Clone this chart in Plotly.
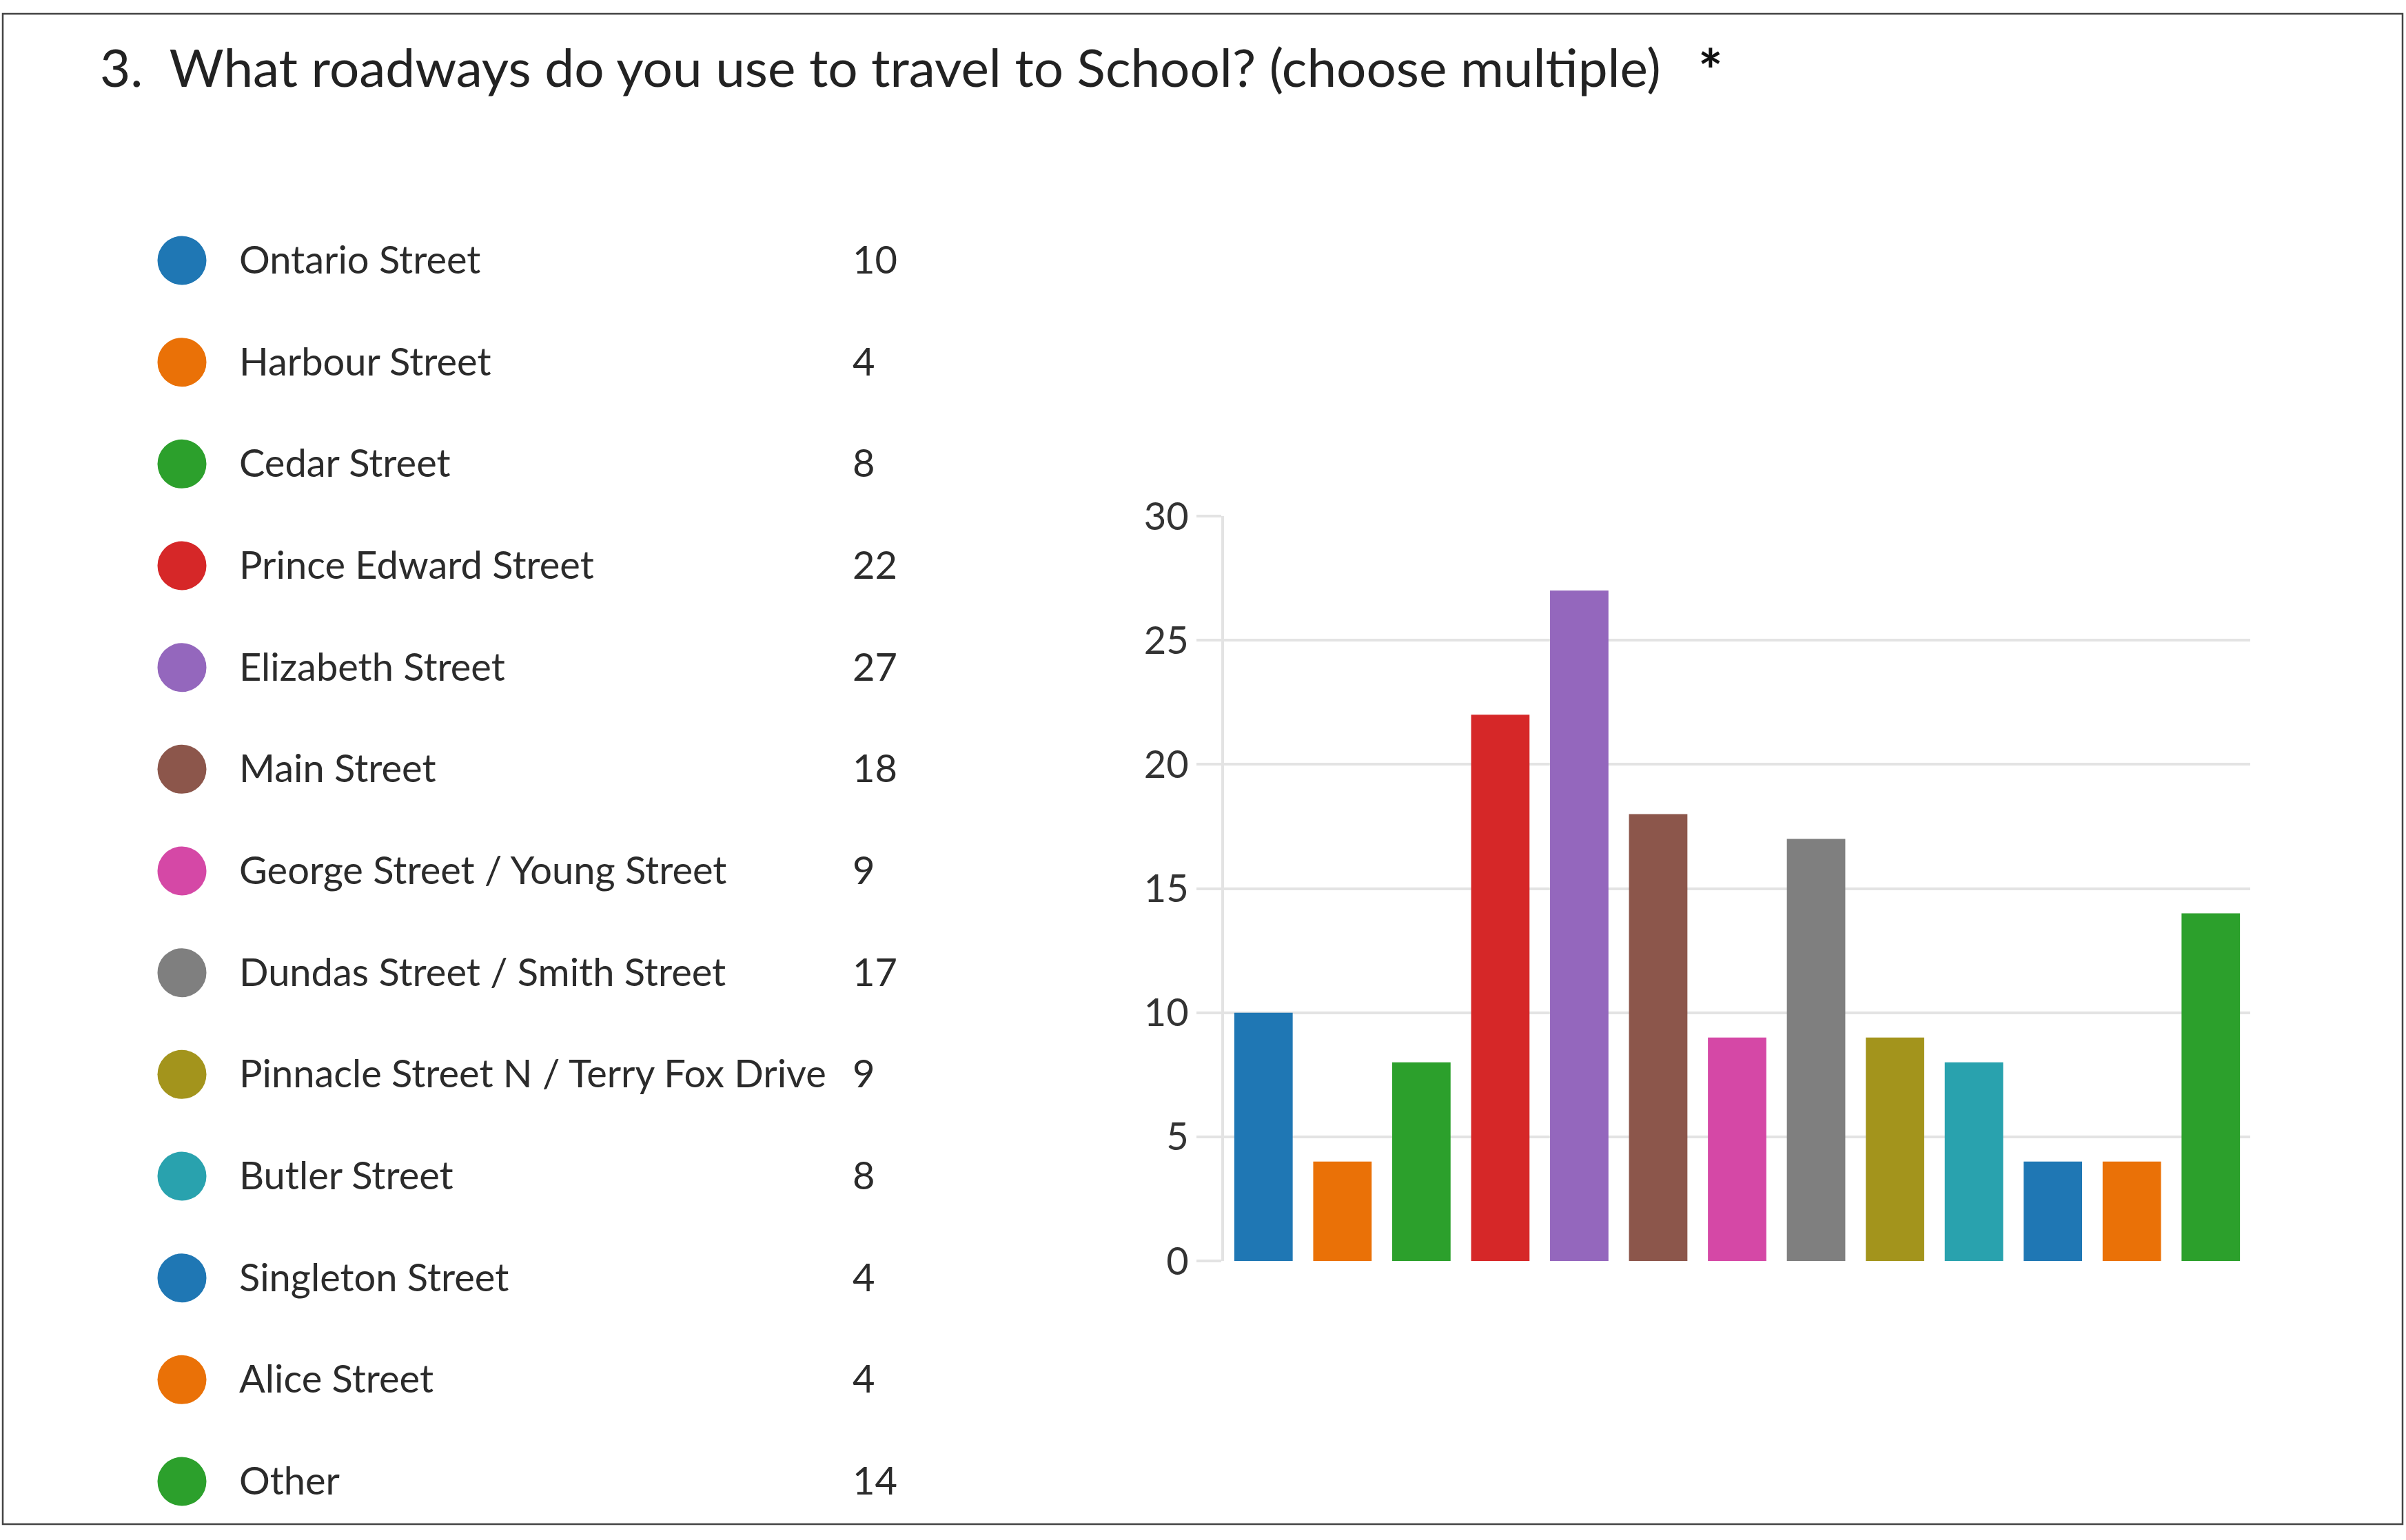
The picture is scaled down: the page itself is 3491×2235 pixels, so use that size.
import plotly.graph_objects as go

W, H = 3491, 2235

streets = [
    "Ontario Street", "Harbour Street", "Cedar Street", "Prince Edward Street",
    "Elizabeth Street", "Main Street", "George Street / Young Street",
    "Dundas Street / Smith Street", "Pinnacle Street N / Terry Fox Drive",
    "Butler Street", "Singleton Street", "Alice Street", "Other",
]
counts = [10, 4, 8, 22, 27, 18, 9, 17, 9, 8, 4, 4, 14]
colors = [
    "#1f77b4", "#ea7107", "#2ca02c", "#d62728", "#9467bd", "#8c564b",
    "#d548a6", "#7f7f7f", "#a3941c", "#29a2ae", "#1f77b4", "#ea7107", "#2ca02c",
]
y_ticks = [0, 5, 10, 15, 20, 25, 30]
title_text = "3.  What roadways do you use to travel to School? (choose multiple)"

FONT = "Lato"
TXT = "#2b2b2b"
GRID = "#e3e3e3"


def fx(p):
    return p / W


def fy(p):
    return 1 - p / H


fig = go.Figure()

# Bar chart
fig.add_trace(go.Bar(
    x=streets, y=counts, width=0.74,
    marker=dict(color=colors, line=dict(width=0)),
    xaxis="x", yaxis="y", showlegend=False, hoverinfo="skip",
))

# Legend built as scatters on their own axes
n = len(streets)
fig.add_trace(go.Scatter(
    x=[264] * n, y=streets, mode="markers",
    marker=dict(size=71, color=colors, line=dict(width=0)),
    xaxis="x2", yaxis="y2", showlegend=False, hoverinfo="skip",
))
fig.add_trace(go.Scatter(
    x=[347] * n, y=streets, mode="text", text=streets,
    textposition="middle right",
    textfont=dict(family=FONT, size=56, color=TXT),
    xaxis="x2", yaxis="y3", showlegend=False, hoverinfo="skip",
))
fig.add_trace(go.Scatter(
    x=[1237] * n, y=streets, mode="text",
    text=[str(c) for c in counts],
    textposition="middle right",
    textfont=dict(family=FONT, size=56, color=TXT),
    xaxis="x2", yaxis="y3", showlegend=False, hoverinfo="skip",
))

row_px = 147.67


def cat_range(first_px):
    top = -first_px / row_px
    return [top + H / row_px, top]


fig.update_layout(
    width=W, height=H, autosize=False,
    margin=dict(l=0, r=0, t=0, b=0, pad=0, autoexpand=False),
    paper_bgcolor="white", plot_bgcolor="white",
    font=dict(family=FONT, color=TXT),
    xaxis=dict(
        domain=[fx(1776), fx(3265)], type="category",
        range=[-0.5, n - 0.5],
        showticklabels=False, showgrid=False, zeroline=False,
        showline=False, ticks="", anchor="y", automargin=False,
    ),
    yaxis=dict(
        domain=[fy(1830), fy(749)], range=[0, 30],
        tickvals=y_ticks, ticktext=[str(v) for v in y_ticks],
        showgrid=True, gridcolor=GRID, gridwidth=3.5,
        showline=True, linecolor=GRID, linewidth=4,
        ticks="outside", ticklen=36, tickcolor=GRID, tickwidth=3.5,
        ticklabelstandoff=0,
        tickfont=dict(family=FONT, size=56, color="#333333"),
        zeroline=False, anchor="x", automargin=False,
    ),
    xaxis2=dict(
        domain=[0, 0.5], range=[0, 0.5 * W],
        visible=False, anchor="y2", automargin=False,
    ),
    yaxis2=dict(
        domain=[0, 1], type="category", range=cat_range(378),
        visible=False, anchor="x2", automargin=False,
    ),
    yaxis3=dict(
        domain=[0, 1], type="category", range=cat_range(383),
        visible=False, anchor="x2", overlaying="y2", automargin=False,
    ),
    annotations=[
        dict(text=title_text, x=fx(143), y=fy(96), xref="paper", yref="paper",
             xanchor="left", yanchor="middle", showarrow=False,
             font=dict(family=FONT, size=76.5, color="#222222")),
        dict(text="<b>*</b>", x=fx(2482), y=fy(100), xref="paper", yref="paper",
             xanchor="center", yanchor="middle", showarrow=False,
             font=dict(family=FONT, size=84, color="#111111")),
    ],
    shapes=[
        dict(type="rect", xref="paper", yref="paper",
             x0=fx(4), x1=fx(3486), y0=fy(2212), y1=fy(20),
             line=dict(color="#444444", width=2.5), layer="above"),
    ],
)

fig.write_html("out.html")
